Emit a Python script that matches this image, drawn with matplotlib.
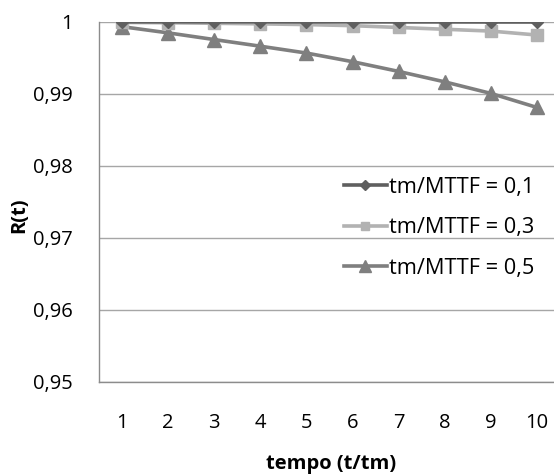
import matplotlib
matplotlib.use("Agg")
import matplotlib.pyplot as plt

x = [1, 2, 3, 4, 5, 6, 7, 8, 9, 10]
r01 = [0.99999, 0.99999, 0.99999, 0.99999, 0.99998, 0.99998, 0.99997, 0.99997, 0.99996, 0.99996]
r03 = [0.99990, 0.99985, 0.99978, 0.99970, 0.99960, 0.99945, 0.99920, 0.99895, 0.99870, 0.99815]
r05 = [0.99931, 0.99845, 0.99752, 0.99660, 0.99565, 0.99445, 0.99310, 0.99165, 0.99005, 0.98810]
labels = ["tm/MTTF = 0,1", "tm/MTTF = 0,3", "tm/MTTF = 0,5"]
yticks = [0.95, 0.96, 0.97, 0.98, 0.99, 1.0]
yticklabels = ["0,95", "0,96", "0,97", "0,98", "0,99", "1"]

plt.rcParams['font.family'] = ['Open Sans', 'DejaVu Sans']

W, H = 554, 474
fig = plt.figure(figsize=(W / 100, H / 100), dpi=100)
left, right = 99, 560
top, bottom = 21.7, 382
ax = fig.add_axes([left / W, 1 - bottom / H, (right - left) / W, (bottom - top) / H])

lw = 2.6
ax.plot(x, r01, color='#5f5f5f', lw=lw, marker='D', ms=6, label=labels[0], zorder=5)
ax.plot(x, r03, color='#b2b2b2', lw=lw, marker='s', ms=8, label=labels[1], zorder=4)
ax.plot(x, r05, color='#7f7f7f', lw=lw, marker='^', ms=10, label=labels[2], zorder=3)

ax.set_xlim(0.5, 10.5)
ax.set_ylim(0.95, 1.0)
ax.set_yticks(yticks)
ax.set_yticklabels(yticklabels)
ax.set_xticks(x)
ax.set_xticklabels([str(v) for v in x])
ax.tick_params(axis='both', length=0, labelsize=14.5, colors='#000000')
ax.tick_params(axis='y', pad=19)
ax.tick_params(axis='x', pad=22)
ax.grid(axis='y', color='#a6a6a6', lw=1.0)
ax.set_axisbelow(True)
for s in ['top', 'right']:
    ax.spines[s].set_visible(False)
for s in ['left', 'bottom']:
    ax.spines[s].set_color('#8c8c8c')
    ax.spines[s].set_linewidth(1.0)

fig.text(19 / W, 1 - 215 / H, "R(t)", rotation=90, ha='center', va='center',
         fontsize=14.5, fontweight='bold')
fig.text(331 / W, 1 - 464 / H, "tempo (t/tm)", ha='center', va='center',
         fontsize=14.5, fontweight='bold')

leg = fig.legend(loc='center left', bbox_to_anchor=(344 / W, 1 - 228 / H),
                 frameon=False, fontsize=15.7, handlelength=1.95, handletextpad=0.12,
                 labelspacing=0.9, borderpad=0, borderaxespad=0, markerscale=0.8)

fig.savefig("out.png", dpi=100)
